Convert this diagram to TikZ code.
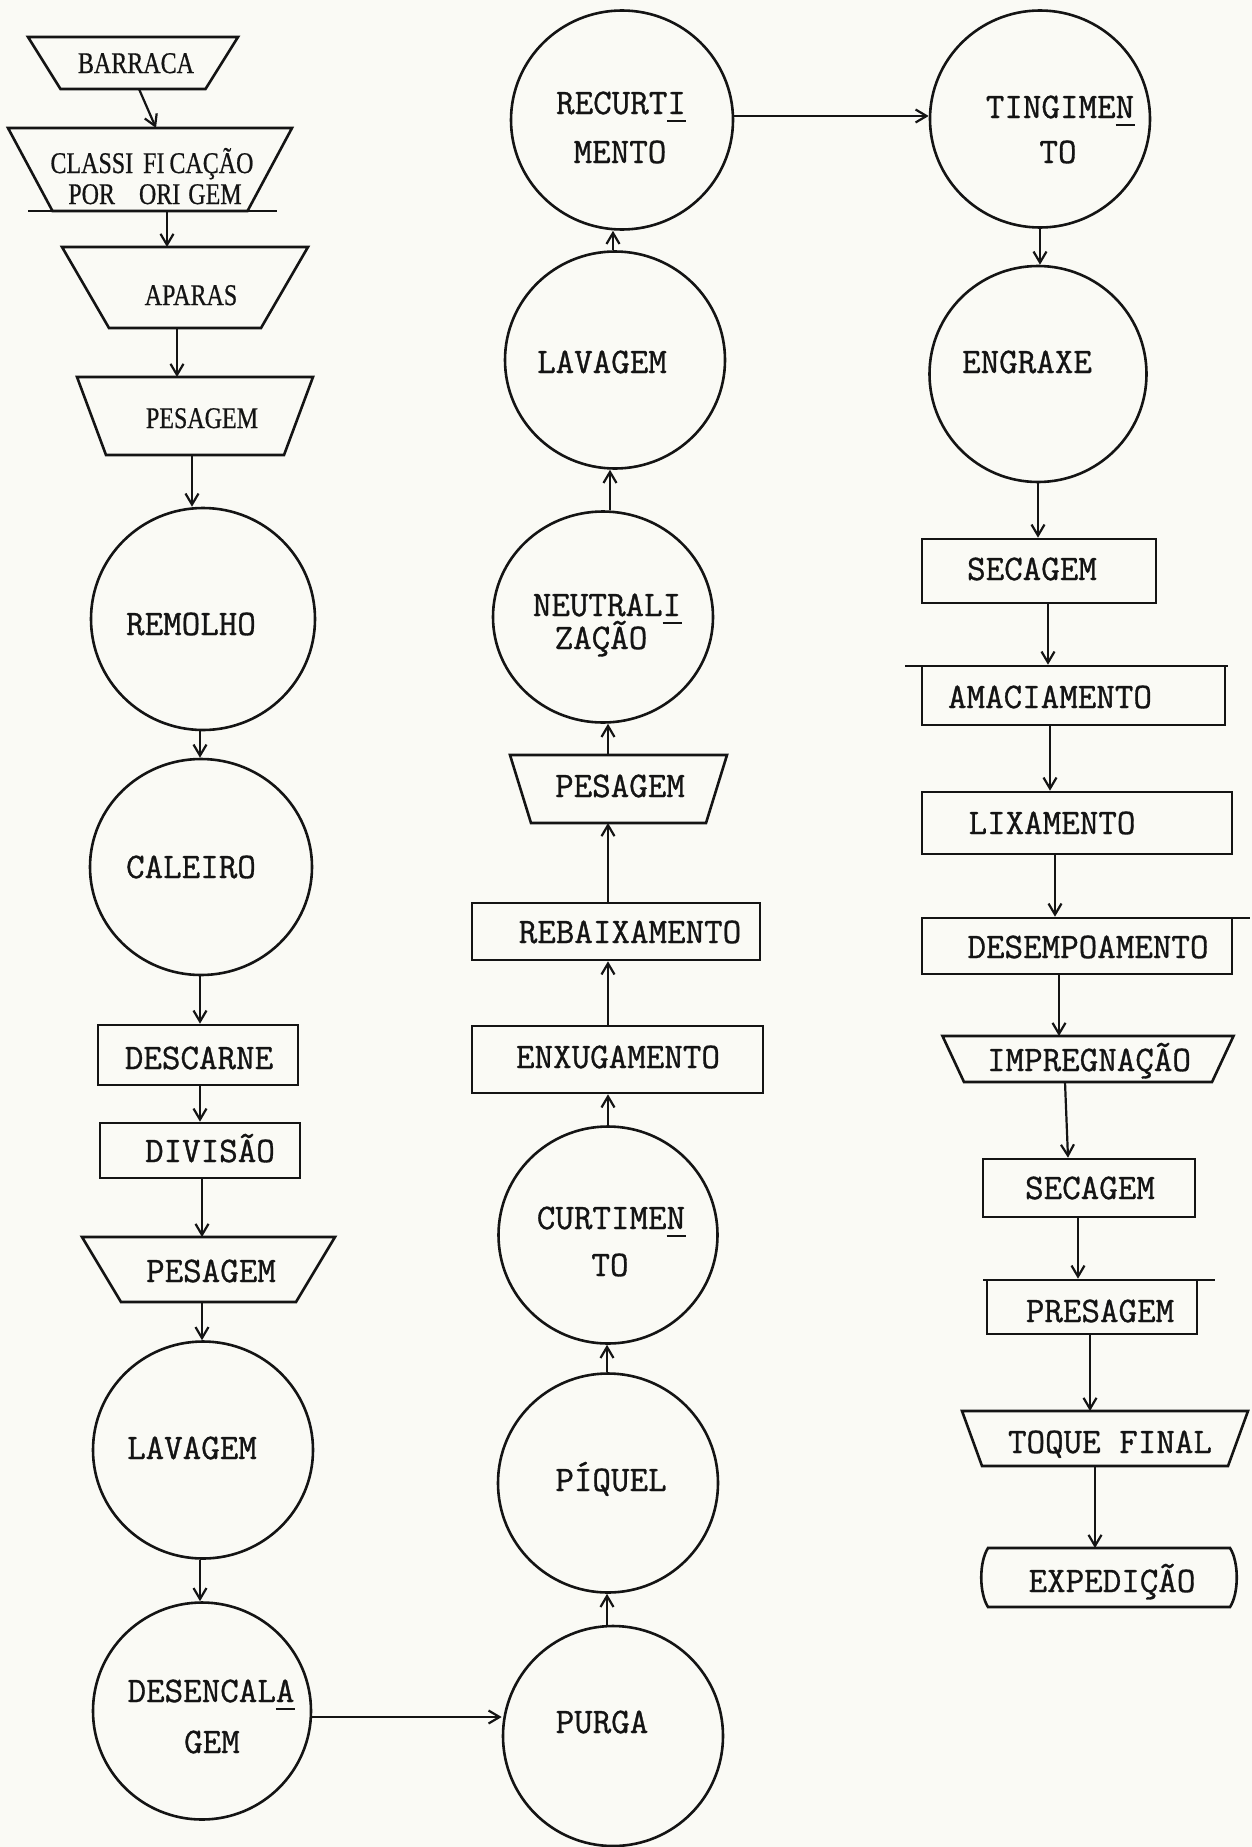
\documentclass[tikz,border=0pt]{standalone}
\usepackage{fontspec}
\setmonofont{Latin Modern Mono}[FakeBold=0.9]
\newfontfamily\condfont{Liberation Serif}[FakeStretch=0.80,FakeBold=0.6]
\usetikzlibrary{shapes.geometric,arrows.meta}
\definecolor{paper}{RGB}{250,250,245}
\definecolor{ink}{RGB}{20,20,20}
\newcommand\hy[1]{\makebox[0pt][l]{\rule[-8pt]{0.525em}{2.4pt}}#1}
% trapezoid: name, x, y, top width, height, inset of bottom corners
\newcommand\trapz[6]{%
  \node[minimum width=#4pt, minimum height=#5pt, inner sep=0pt, outer sep=0pt] (#1) at (#2,#3) {};
  \draw[rulel] (#1.north west) -- (#1.north east) -- ([xshift=-#6pt]#1.south east)
     -- ([xshift=#6pt]#1.south west) -- cycle;}
\begin{document}
\begin{tikzpicture}[x=1pt,y=-1pt,
  oval/.style={draw=ink, line width=2.6pt, ellipse, inner sep=0pt},
  box/.style={draw=ink, line width=2.6pt, rectangle, inner sep=0pt},
  lbl/.style={text=ink, inner sep=0pt, font=\ttfamily\fontsize{36}{40}\selectfont, text height=22pt, text depth=0pt},
  clbl/.style={text=ink, inner sep=0pt, font=\condfont\fontsize{30}{33}\selectfont, text height=20pt, text depth=0pt},
  arr/.style={draw=ink, line width=2.2pt, -{Straight Barb[length=11pt,width=13pt]}},
  rulel/.style={draw=ink, line width=2.6pt, line join=miter}
]
\fill[paper] (0,0) rectangle (1252,1847);
\useasboundingbox (0,0) rectangle (1252,1847);

% ---------- left column ----------
\trapz{barraca}{133}{63}{210}{52}{32.5}
\node[clbl] (barracaT) at (136,63) {BARRACA};
\trapz{classif}{150}{169.5}{284}{83}{44.5}
\node[clbl] (classifT1) at (152,163) {CLASSI\hspace{10pt}FI\hspace{5pt}CAÇÃO};
\node[clbl] (classifT2) at (155,194) {POR\hspace{24pt}ORI\hspace{8pt}GEM};
\trapz{aparas}{185}{287.5}{246}{81}{47}
\node[clbl] (aparasT) at (191,295) {APARAS};
\trapz{pesag1}{195}{416}{236}{78}{29}
\node[clbl] (pesag1T) at (202,418) {PESAGEM};
\node[oval, minimum width=224pt, minimum height=222pt] (remolho) at (203,619) {};
\node[lbl] (remolhoT) at (191,624) {REMOLHO};
\node[oval, minimum width=222pt, minimum height=216pt] (caleiro) at (201,867) {};
\node[lbl] (caleiroT) at (191,867) {CALEIRO};
\node[box, minimum width=200pt, minimum height=60pt] (descarne) at (198,1055) {};
\node[lbl] (descarneT) at (199,1058) {DESCARNE};
\node[box, minimum width=200pt, minimum height=55pt] (divisao) at (200,1150.5) {};
\node[lbl] (divisaoT) at (210,1151) {DIVISÃO};
\trapz{pesag2}{208.5}{1269.5}{253}{65}{39}
\node[lbl] (pesag2T) at (211,1271) {PESAGEM};
\node[oval, minimum width=220pt, minimum height=217pt] (lavag1) at (203,1450) {};
\node[lbl] (lavag1T) at (192,1448) {LAVAGEM};
\node[oval, minimum width=218pt, minimum height=217pt] (desenc) at (202,1711) {};
\node[lbl] (desencT1) at (211,1691) {DESENCAL\hy{A}};
\node[lbl] (desencT2) at (212,1742) {GEM};

% ---------- middle column ----------
\node[oval, minimum width=220pt, minimum height=220pt] (purga) at (613,1736) {};
\node[lbl] (purgaT) at (602,1722) {PURGA};
\node[oval, minimum width=220pt, minimum height=219pt] (piquel) at (608,1483) {};
\node[lbl] (piquelT) at (611,1480) {PÍQUEL};
\node[oval, minimum width=219pt, minimum height=217pt] (curtim) at (608,1235) {};
\node[lbl] (curtimT1) at (611,1218) {CURTIME\hy{N}};
\node[lbl] (curtimT2) at (610,1265) {TO};
\node[box, minimum width=291pt, minimum height=67pt] (enxug) at (617.5,1059.5) {};
\node[lbl] (enxugT) at (618,1057) {ENXUGAMENTO};
\node[box, minimum width=288pt, minimum height=57pt] (rebaix) at (616,931.5) {};
\node[lbl] (rebaixT) at (630,932) {REBAIXAMENTO};
\trapz{pesag3}{618.5}{789}{217}{68}{21}
\node[lbl] (pesag3T) at (620,786) {PESAGEM};
\node[oval, minimum width=220pt, minimum height=211pt] (neutral) at (603,617) {};
\node[lbl] (neutralT1) at (607,605) {NEUTRAL\hy{I}};
\node[lbl] (neutralT2) at (601,638) {ZAÇÃO};
\node[oval, minimum width=220pt, minimum height=217pt] (lavag2) at (615,360) {};
\node[lbl] (lavag2T) at (602,362) {LAVAGEM};
\node[oval, minimum width=222pt, minimum height=219pt] (recurt) at (622,120) {};
\node[lbl] (recurtT1) at (621,103) {RECURT\hy{I}};
\node[lbl] (recurtT2) at (620,152) {MENTO};

% ---------- right column ----------
\node[oval, minimum width=220pt, minimum height=217pt] (tingim) at (1040,119) {};
\node[lbl] (tingimT1) at (1060,107) {TINGIME\hy{N}};
\node[lbl] (tingimT2) at (1058,152) {TO};
\node[oval, minimum width=217pt, minimum height=216pt] (engraxe) at (1038,374) {};
\node[lbl] (engraxeT) at (1027,362) {ENGRAXE};
\node[box, minimum width=234pt, minimum height=64pt] (secag1) at (1039,571) {};
\node[lbl] (secag1T) at (1032,569) {SECAGEM};
\node[box, minimum width=303pt, minimum height=59pt] (amac) at (1073.5,695.5) {};
\node[lbl] (amacT) at (1050,697) {AMACIAMENTO};
\node[box, minimum width=310pt, minimum height=62pt] (lixam) at (1077,823) {};
\node[lbl] (lixamT) at (1052,823) {LIXAMENTO};
\node[box, minimum width=310pt, minimum height=56pt] (desemp) at (1077,946) {};
\node[lbl] (desempT) at (1088,947) {DESEMPOAMENTO};
\trapz{impreg}{1088}{1059}{291}{46}{21.5}
\node[lbl] (impregT) at (1089,1060) {IMPREGNAÇÃO};
\node[box, minimum width=212pt, minimum height=58pt] (secag2) at (1089,1188) {};
\node[lbl] (secag2T) at (1090,1188) {SECAGEM};
\node[box, minimum width=210pt, minimum height=54pt] (presag) at (1092,1307) {};
\node[lbl] (presagT) at (1100,1311) {PRESAGEM};
\trapz{toque}{1105}{1438.5}{286}{55}{20}
\node[lbl] (toqueT) at (1110,1442) {TOQUE FINAL};
\node[minimum width=252pt, minimum height=59pt, inner sep=0pt, outer sep=0pt] (exped) at (1109,1577.5) {};
\draw[rulel] (988,1548) -- (1230,1548) .. controls (1239,1562) and (1239,1593) .. (1230,1607)
  -- (988,1607) .. controls (979,1593) and (979,1562) .. (988,1548) -- cycle;
\node[lbl] (expedT) at (1112,1581) {EXPEDIÇÃO};

% extra rule lines
\draw[rulel] (28,211) -- (277,211);
\draw[rulel] (905,666) -- (1228,666);
\draw[rulel] (1232,918) -- (1250,918);
\draw[rulel] (983,1280) -- (1215,1280);

% ---------- connectors ----------
\draw[arr] ([xshift=6pt]barraca.south) -- ([xshift=6pt]classif.north);
\draw[arr] ([xshift=17pt]classif.south) -- ([xshift=-18pt]aparas.north);
\draw[arr] ([xshift=-8pt]aparas.south) -- ([xshift=-18pt]pesag1.north);
\draw[arr] ([xshift=-3pt]pesag1.south) -- ([xshift=-11pt]remolho.north);
\draw[arr] ([xshift=-3pt]remolho.south) -- ([xshift=-1pt]caleiro.north);
\draw[arr] ([xshift=-1pt]caleiro.south) -- ([xshift=2pt]descarne.north);
\draw[arr] ([xshift=2pt]descarne.south) -- (divisao.north);
\draw[arr] ([xshift=2pt]divisao.south) -- ([xshift=-6.5pt]pesag2.north);
\draw[arr] ([xshift=-6.5pt]pesag2.south) -- ([xshift=-1pt]lavag1.north);
\draw[arr] ([xshift=-3pt]lavag1.south) -- ([xshift=-2pt]desenc.north);
\draw[arr] ([yshift=-6pt]desenc.east) -- ([yshift=19pt]purga.west);

\draw[arr] ([xshift=-6pt]purga.north) -- ([xshift=-1pt]piquel.south);
\draw[arr] ([xshift=-1pt]piquel.north) -- ([xshift=-1pt]curtim.south);
\draw[arr] (curtim.north) -- ([xshift=-9.5pt]enxug.south);
\draw[arr] ([xshift=-9.5pt]enxug.north) -- ([xshift=-8pt]rebaix.south);
\draw[arr] ([xshift=-8pt]rebaix.north) -- ([xshift=-10.5pt]pesag3.south);
\draw[arr] ([xshift=-10.5pt]pesag3.north) -- ([xshift=5pt]neutral.south);
\draw[arr] ([xshift=7pt]neutral.north) -- ([xshift=-5pt]lavag2.south);
\draw[arr] ([xshift=-2pt]lavag2.north) -- ([xshift=-9pt]recurt.south);
\draw[arr] ([yshift=4pt]recurt.east) -- ([yshift=3pt]tingim.west);

\draw[arr] (tingim.south) -- ([xshift=2pt]engraxe.north);
\draw[arr] (engraxe.south) -- ([xshift=-1pt]secag1.north);
\draw[arr] ([xshift=9pt]secag1.south) -- ([xshift=-25.5pt]amac.north);
\draw[arr] ([xshift=-23.5pt]amac.south) -- ([xshift=-27pt]lixam.north);
\draw[arr] ([xshift=-22pt]lixam.south) -- ([xshift=-22pt]desemp.north);
\draw[arr] ([xshift=-18pt]desemp.south) -- ([xshift=-29pt]impreg.north);
\draw[arr] ([xshift=-23pt]impreg.south) -- ([xshift=-21pt]secag2.north);
\draw[arr] ([xshift=-11pt]secag2.south) -- ([xshift=-14pt]presag.north);
\draw[arr] ([xshift=-2pt]presag.south) -- ([xshift=-15pt]toque.north);
\draw[arr] ([xshift=-10pt]toque.south) -- ([xshift=-14pt]exped.north);
\end{tikzpicture}
\end{document}
